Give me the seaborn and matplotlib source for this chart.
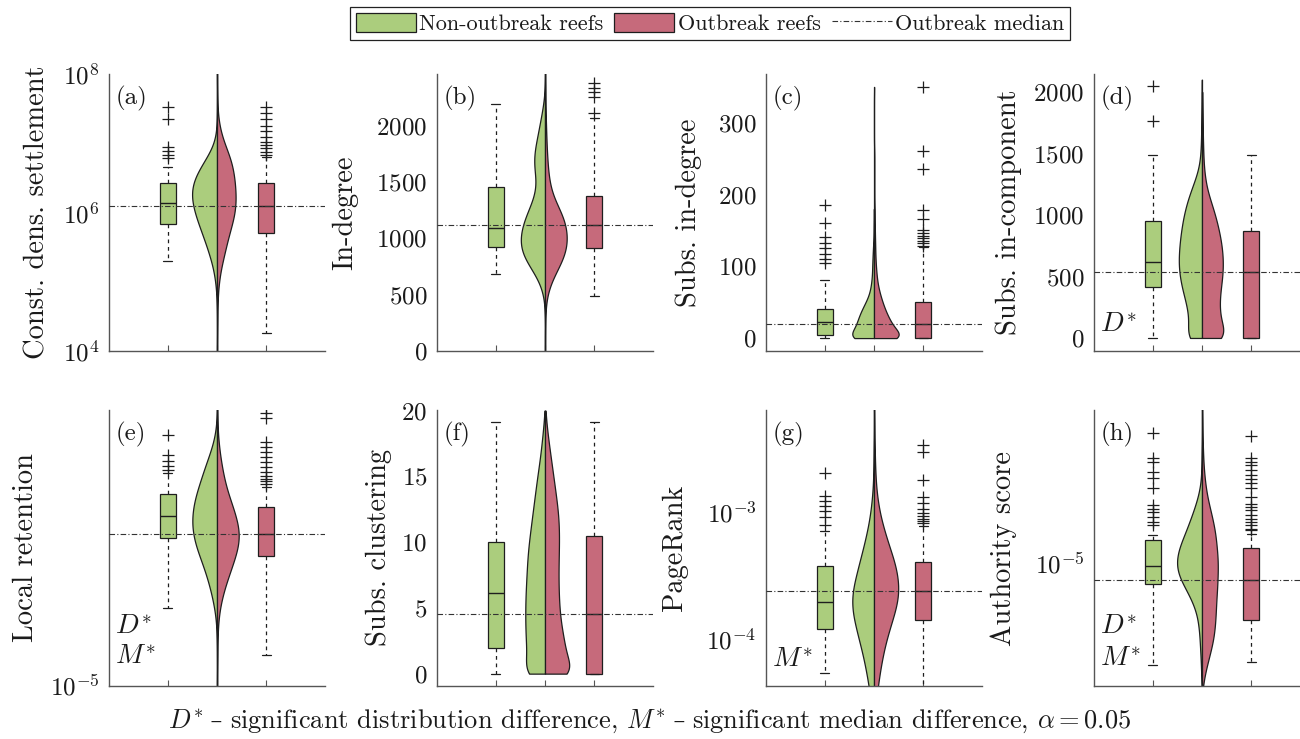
import numpy as np
import pandas as pd
import matplotlib
matplotlib.use("Agg")
import matplotlib.pyplot as plt
import seaborn as sns
from matplotlib.patches import Patch
from matplotlib.lines import Line2D
from matplotlib.offsetbox import TextArea, HPacker, AnchoredOffsetbox
from matplotlib.ticker import FixedLocator, NullFormatter, LogFormatterMathtext, ScalarFormatter

# ---------------------------------------------------------------- data
GROUPS = ["Non-outbreak reefs", "Outbreak reefs"]
POS = ["non", "violin", "out"]
YLABELS = ["Const. dens. settlement", "In-degree", "Subs. in-degree", "Subs. in-component",
           "Local retention", "Subs. clustering", "PageRank", "Authority score"]
LETTERS = ["(a)", "(b)", "(c)", "(d)", "(e)", "(f)", "(g)", "(h)"]
SIGNIF = [[], [], [], ["$D^{*}$"], ["$D^{*}$", "$M^{*}$"], [], ["$M^{*}$"], ["$D^{*}$", "$M^{*}$"]]
IS_LOG = [True, False, False, False, True, False, True, True]
FOOTER = ["$D^{*}$", " \u2013 ", "significant distribution difference, $M^{*}$", " \u2013 ",
          r"significant median difference, $\alpha = 0.05$"]

# box statistics: [lower whisker, q1, median, q3, upper whisker]  (log panels: log10 values)
a_non_box = [5.304, 5.834, 6.132, 6.43, 6.662]
a_non_fliers = [6.78, 6.83, 6.893, 6.95, 7.345, 7.519]
a_out_box = [4.265, 5.709, 6.094, 6.43, 6.80]
a_out_fliers = [6.83, 6.88, 6.93, 6.97, 7.02, 7.086, 7.17, 7.25, 7.345, 7.44, 7.52]

b_non_box = [684, 924, 1090, 1458, 2193]
b_non_fliers = []
b_out_box = [489, 918, 1120, 1378, 2068]
b_out_fliers = [2113, 2260, 2300, 2340, 2380]

c_non_box = [0, 3.7, 23, 40, 81]
c_non_fliers = [104, 110, 117, 125, 133, 141, 160, 186]
c_out_box = [0, 0, 20, 50, 127]
c_out_fliers = [129, 132, 135, 139, 142, 146, 150, 166, 178, 235, 261, 350]

d_non_box = [0, 415, 615, 954, 1488]
d_non_fliers = [1767, 2046]
d_out_box = [0, 0, 534, 867, 1488]
d_out_fliers = []

e_non_box = [-3.863, -2.848, -2.543, -2.224, -1.919]
e_non_fliers = [-1.87, -1.81, -1.74, -1.653, -1.363]
e_out_box = [-4.555, -3.114, -2.79, -2.407, -2.112]
e_out_fliers = [-2.074, -2.035, -1.996, -1.958, -1.895, -1.822, -1.75, -1.677, -1.605,
                -1.532, -1.46, -1.121, -1.048, -0.976]

f_non_box = [0, 1.98, 6.17, 10.03, 19.14]
f_non_fliers = []
f_out_box = [0, 0, 4.57, 10.5, 19.14]
f_out_fliers = []

g_non_box = [-4.271, -3.926, -3.711, -3.429, -3.15]
g_non_fliers = [-3.105, -3.039, -2.992, -2.955, -2.918, -2.879, -2.697]
g_out_box = [-4.45, -3.855, -3.624, -3.395, -3.11]
g_out_fliers = [-3.092, -3.076, -3.055, -3.034, -3.008, -2.974, -2.934, -2.882, -2.75,
                -2.526, -2.474]

h_non_box = [-7.48, -5.504, -5.057, -4.431, -4.309]
h_non_fliers = [-4.065, -3.984, -3.862, -3.74, -3.659, -3.577, -3.171, -2.927, -2.764,
                -2.52, -2.439, -1.829]
h_out_box = [-7.398, -6.366, -5.407, -4.61, -4.268]
h_out_fliers = [-4.187, -4.146, -4.065, -3.984, -3.902, -3.821, -3.699, -3.618, -3.537,
                -3.374, -3.171, -3.049, -2.951, -2.846, -2.724, -2.602, -2.52, -2.439, -1.894]

# violin distributions: value levels and counts per level (log panels: log10 values)
a_levels = [4.4, 4.6, 4.8, 5.0, 5.2, 5.4, 5.6, 5.8, 6.0, 6.2, 6.4, 6.6, 6.8, 7.0, 7.2, 7.4, 7.6]
a_non_counts = [0, 0, 1, 4, 10, 22, 35, 50, 64, 74, 74, 55, 28, 4, 1, 0, 0]
a_out_counts = [1, 1, 2, 5, 11, 22, 30, 42, 54, 56, 53, 49, 40, 20, 8, 2, 1]

b_levels = [300, 400, 500, 600, 700, 800, 900, 1000, 1100, 1200, 1300, 1400, 1500, 1600,
            1700, 1800, 1900, 2000, 2100, 2200, 2300, 2400]
b_non_counts = [0, 1, 4, 14, 32, 55, 70, 72, 66, 55, 40, 28, 24, 30, 33, 29, 22, 16, 10, 4, 1, 0]
b_out_counts = [1, 2, 6, 16, 32, 50, 62, 65, 62, 52, 35, 20, 13, 9, 7, 5, 4, 3, 2, 1, 1, 1]

c_levels = [0, 10, 20, 30, 40, 50, 60, 70, 80, 90, 100, 110, 120, 130, 140, 150, 160, 170,
            180, 190, 200, 210, 220, 230, 240, 250, 260, 270, 280, 290, 300, 310, 320, 330,
            340, 350]
c_non_counts = [105, 63, 57, 50, 40, 27, 16, 11, 8, 6, 6, 5, 4, 3, 1, 1, 1, 0,
                1, 0, 0, 0, 0, 0, 0, 0, 0, 0, 0, 0, 0, 0, 0, 0, 0, 0]
c_out_counts = [118, 70, 57, 45, 35, 27, 20, 14, 10, 8, 6, 5, 4, 4, 3, 3, 2, 2,
                2, 1, 1, 1, 1, 1, 1, 1, 1, 0, 0, 0, 0, 0, 0, 0, 0, 1]

d_levels = [0, 100, 200, 300, 400, 500, 600, 700, 800, 900, 1000, 1100, 1200, 1300, 1400,
            1500, 1600, 1700, 1800, 1900, 2000, 2100]
d_non_counts = [56, 36, 40, 48, 59, 66, 70, 68, 65, 60, 54, 45, 33, 18, 7, 4, 3, 2, 2, 1, 1, 1]
d_out_counts = [92, 58, 53, 52, 56, 62, 64, 62, 57, 49, 40, 28, 15, 9, 5, 4, 3, 2, 2, 1, 1, 0]

e_levels = [-4.6, -4.4, -4.2, -4.0, -3.8, -3.6, -3.4, -3.2, -3.0, -2.8, -2.6, -2.4, -2.2,
            -2.0, -1.8, -1.6, -1.4, -1.2, -1.0]
e_non_counts = [0, 0, 1, 3, 10, 19, 30, 44, 60, 71, 74, 70, 60, 46, 34, 18, 6, 1, 0]
e_out_counts = [1, 1, 2, 4, 10, 20, 33, 47, 60, 66, 57, 45, 30, 20, 13, 7, 3, 1, 1]

f_levels = [0, 1, 2, 3, 4, 5, 6, 7, 8, 9, 10, 11, 12, 13, 14, 15, 16, 17, 18, 19, 20]
f_non_counts = [74, 52, 56, 58, 59, 59, 58, 56, 54, 52, 48, 43, 38, 33, 28, 23, 17, 12, 8, 4, 1]
f_out_counts = [117, 73, 68, 60, 52, 48, 46, 45, 45, 46, 47, 47, 45, 40, 34, 28, 22, 16, 10, 5, 1]

g_levels = [-4.9, -4.8, -4.7, -4.6, -4.5, -4.4, -4.3, -4.2, -4.1, -4.0, -3.9, -3.8, -3.7,
            -3.6, -3.5, -3.4, -3.3, -3.2, -3.1, -3.0, -2.9, -2.8, -2.7, -2.6, -2.5, -2.4,
            -2.3, -2.2]
g_non_counts = [1, 2, 3, 5, 9, 14, 20, 27, 35, 45, 54, 63, 66, 62, 52, 43, 33, 24, 16, 10,
                6, 3, 2, 1, 1, 0, 0, 0]
g_out_counts = [0, 1, 2, 3, 6, 10, 15, 21, 28, 37, 48, 60, 70, 73, 69, 61, 48, 36, 25, 16,
                10, 6, 4, 3, 2, 1, 1, 0]

h_levels = [-8.0, -7.75, -7.5, -7.25, -7.0, -6.75, -6.5, -6.25, -6.0, -5.75, -5.5, -5.25,
            -5.0, -4.75, -4.5, -4.25, -4.0, -3.75, -3.5, -3.25, -3.0, -2.75, -2.5, -2.25,
            -2.0, -1.75, -1.5]
h_non_counts = [1, 2, 3, 4, 6, 7, 10, 14, 24, 38, 55, 70, 75, 71, 61, 48, 37, 26, 16, 8, 3,
                2, 1, 1, 0, 0, 0]
h_out_counts = [2, 7, 14, 22, 30, 36, 39, 41, 42, 44, 46, 47, 48, 46, 43, 40, 34, 27, 19,
                13, 9, 6, 4, 3, 2, 1, 1]

NON_BOX = [a_non_box, b_non_box, c_non_box, d_non_box, e_non_box, f_non_box, g_non_box, h_non_box]
NON_FL = [a_non_fliers, b_non_fliers, c_non_fliers, d_non_fliers, e_non_fliers, f_non_fliers,
          g_non_fliers, h_non_fliers]
OUT_BOX = [a_out_box, b_out_box, c_out_box, d_out_box, e_out_box, f_out_box, g_out_box, h_out_box]
OUT_FL = [a_out_fliers, b_out_fliers, c_out_fliers, d_out_fliers, e_out_fliers, f_out_fliers,
          g_out_fliers, h_out_fliers]
LEVELS = [a_levels, b_levels, c_levels, d_levels, e_levels, f_levels, g_levels, h_levels]
NON_CNT = [a_non_counts, b_non_counts, c_non_counts, d_non_counts, e_non_counts, f_non_counts,
           g_non_counts, h_non_counts]
OUT_CNT = [a_out_counts, b_out_counts, c_out_counts, d_out_counts, e_out_counts, f_out_counts,
           g_out_counts, h_out_counts]

# ---------------------------------------------------------------- style / layout
GREEN = "#abcd7d"
RED = "#c66a7b"
EDGE = "#1e1e1e"
AXC = "#555555"
W, H = 1300, 739
COL_X = [109, 437, 766, 1094]
ROW_Y = [(74, 351), (410, 686)]
AX_W = 216
XLIM = (-1.19, 3.19)
YLIMS = [(1e4, 1e8), (0, 2460), (-18, 368), (-106, 2146), (1e-5, 1e-1), (-0.94, 20.05),
         (10 ** -4.374, 10 ** -2.197), (10 ** -7.98, 10 ** -1.26)]
HALF_W = [(0.505, 0.377), (0.49, 0.44), (0.44, 0.50), (0.47, 0.43), (0.50, 0.44),
          (0.40, 0.49), (0.44, 0.49), (0.505, 0.32)]
BOUNDED = [False, False, True, True, False, True, False, False]
YLAB_X = [-0.269, -0.366, -0.296, -0.333, -0.324, -0.208, -0.361, -0.356]
SIG_Y = [[], [], [], [0.094], [0.214, 0.105], [], [0.094], [0.214, 0.10]]

sns.set_theme(style="white")
plt.rcParams.update({
    "font.family": ["cmr10", "DejaVu Serif"],
    "mathtext.fontset": "cm",
    "axes.formatter.use_mathtext": True,
    "axes.unicode_minus": False,
    "axes.edgecolor": AXC,
    "axes.linewidth": 1.0,
    "text.color": "#1a1a1a",
    "xtick.color": AXC,
    "ytick.color": AXC,
    "ytick.labelcolor": "#1a1a1a",
})

fig = plt.figure(figsize=(W / 100, H / 100), dpi=100)


def conv(vals, log):
    arr = np.asarray(vals, dtype=float)
    return 10.0 ** arr if log else arr


def draw_half(ax, levels, counts, group, half_w, log, bounded):
    lv = np.repeat(np.asarray(levels, dtype=float), counts)
    step = abs(levels[1] - levels[0])
    bw = 0.9 * step / np.std(lv, ddof=1)
    df = pd.DataFrame({"pos": POS[1], "val": conv(lv, log), "grp": group})
    sns.violinplot(data=df, x="pos", y="val", hue="grp", order=POS, hue_order=GROUPS,
                   palette=[GREEN, RED], split=True, dodge=True, inner=None,
                   width=2 * half_w, density_norm="width", cut=0 if bounded else 12,
                   gridsize=1500, bw_method=bw, linewidth=0.9, linecolor=EDGE,
                   saturation=1, log_scale=log, legend=False, ax=ax)


def draw_box(ax, pos, box, fliers, color, log):
    lo, q1, med, q3, hi = conv(box, log)
    stats = [dict(whislo=lo, q1=q1, med=med, q3=q3, whishi=hi, fliers=conv(fliers, log))]
    ax.bxp(stats, positions=[pos], widths=0.32, capwidths=0.17, patch_artist=True,
           manage_ticks=False,
           boxprops=dict(facecolor=color, edgecolor=EDGE, linewidth=0.9),
           medianprops=dict(color=EDGE, linewidth=1.0),
           whiskerprops=dict(color=EDGE, linewidth=0.9, linestyle=(0, (3, 3))),
           capprops=dict(color=EDGE, linewidth=0.9),
           flierprops=dict(marker="+", markersize=8.5, markeredgecolor=EDGE,
                           markeredgewidth=0.9, linestyle="none"))


MEDIAN_LS = (0, (5, 2, 1, 2))

for i in range(8):
    r, c = divmod(i, 4)
    top, bot = ROW_Y[r]
    ax = fig.add_axes([COL_X[c] / W, 1 - bot / H, AX_W / W, (bot - top) / H])
    log = IS_LOG[i]
    draw_half(ax, LEVELS[i], NON_CNT[i], GROUPS[0], HALF_W[i][0], log, BOUNDED[i])
    draw_half(ax, LEVELS[i], OUT_CNT[i], GROUPS[1], HALF_W[i][1], log, BOUNDED[i])
    draw_box(ax, 0, NON_BOX[i], NON_FL[i], GREEN, log)
    draw_box(ax, 2, OUT_BOX[i], OUT_FL[i], RED, log)
    out_med = conv(OUT_BOX[i], log)[2]
    ax.axhline(out_med, color="#333333", lw=0.8, ls=MEDIAN_LS, zorder=6)

    ax.set_xlim(*XLIM)
    ax.set_ylim(*YLIMS[i])
    ax.set_xticks([0, 1, 2])
    ax.set_xticklabels([])
    ax.set_xlabel("")
    sns.despine(ax=ax)

    if log:
        ax.set_yscale("log")
        if i == 0:
            major = [1e4, 1e6, 1e8]
            minor = [k * 10.0 ** e for e in range(4, 8) for k in range(1, 10)]
        elif i == 6:
            major = [1e-4, 1e-3]
            minor = [k * 10.0 ** e for e in range(-5, -2) for k in range(1, 10)]
        elif i == 4:
            major = [1e-5]
            minor = [1e-4, 1e-3, 1e-2, 1e-1]
        else:
            major = [1e-5]
            minor = [1e-7, 1e-6, 1e-4, 1e-3, 1e-2]
        ax.yaxis.set_major_locator(FixedLocator(major))
        ax.yaxis.set_major_formatter(LogFormatterMathtext())
        ax.yaxis.set_minor_locator(FixedLocator(minor))
        ax.yaxis.set_minor_formatter(NullFormatter())
    else:
        ticks = {1: [0, 500, 1000, 1500, 2000], 2: [0, 100, 200, 300],
                 3: [0, 500, 1000, 1500, 2000], 5: [0, 5, 10, 15, 20]}[i]
        ax.yaxis.set_major_locator(FixedLocator(ticks))
        ax.yaxis.set_major_formatter(ScalarFormatter())
        ax.yaxis.set_minor_locator(FixedLocator([]))
    ax.set_ylim(*YLIMS[i])

    ax.tick_params(axis="both", which="major", direction="in", length=4, width=0.8,
                   labelsize=18, pad=7)
    ax.tick_params(axis="y", which="minor", direction="in", length=2.5, width=0.7)
    ax.tick_params(axis="x", which="both", bottom=True, length=4)

    ax.set_ylabel(YLABELS[i], fontsize=20.5, color="#1a1a1a")
    ax.yaxis.set_label_coords(YLAB_X[i], 0.5)

    ax.text(0.03, 0.91, LETTERS[i], transform=ax.transAxes, fontsize=18,
            ha="left", va="center")
    for lab, yy in zip(SIGNIF[i], SIG_Y[i]):
        ax.text(0.03, yy, lab, transform=ax.transAxes, fontsize=20, ha="left", va="center")

handles = [Patch(facecolor=GREEN, edgecolor=EDGE, linewidth=0.9),
           Patch(facecolor=RED, edgecolor=EDGE, linewidth=0.9),
           Line2D([], [], color="#333333", lw=0.8, ls=MEDIAN_LS)]
labels = [GROUPS[0], GROUPS[1], "Outbreak median"]
leg = fig.legend(handles, labels, loc="upper center", bbox_to_anchor=(710 / W, 1 - 7 / H),
                 ncol=3, fontsize=16, frameon=True, fancybox=False, framealpha=1,
                 edgecolor="#222222", handlelength=2.7, handleheight=1.0,
                 handletextpad=0.15, columnspacing=0.5, borderpad=0.25,
                 borderaxespad=0)
leg.get_frame().set_linewidth(0.9)

# footer: the dash comes from DejaVu Serif (cmr10 has no unicode en dash)
parts = []
for k, s in enumerate(FOOTER):
    props = dict(fontsize=19, color="#1a1a1a")
    if k % 2 == 1:
        props["family"] = "DejaVu Serif"
        props["fontsize"] = 17
    parts.append(TextArea(s, textprops=props))
pack = HPacker(children=parts, align="baseline", pad=0, sep=0)
anchored = AnchoredOffsetbox(loc="center", child=pack, pad=0, borderpad=0, frameon=False,
                             bbox_to_anchor=(0.5, 1 - 721 / H),
                             bbox_transform=fig.transFigure)
fig.add_artist(anchored)

fig.savefig("out.png", dpi=100)
